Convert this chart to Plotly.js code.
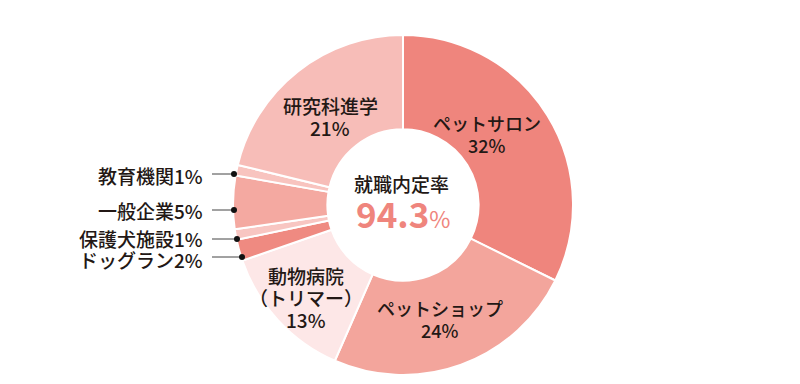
<!DOCTYPE html>
<html><head><meta charset="utf-8">
<script src="https://cdn.plot.ly/plotly-3.0.1.min.js"></script>
<style>html,body{margin:0;padding:0;background:#fff}#chart{width:800px;height:384px}</style>
</head><body><div id="chart"></div>
<script>
const categories = ["ペットサロン","ペットショップ","動物病院（トリマー）","ドッグラン","保護犬施設","一般企業","教育機関","研究科進学"];
const values = [32, 24, 13, 2, 1, 5, 1, 21];
const colors = ["#ef857d","#f3a59c","#fde7e7","#ef8a81","#f8c6c2","#f4a9a1","#f8c4bf","#f7bdb8"];
const centerTitle = "就職内定率";
const centerRate = "94.3";

const W = 800, H = 384;
const px = (x) => x / W;
const py = (y) => 1 - y / H;
const FONT = '"Noto Sans CJK JP", "Noto Sans", sans-serif';
const TXT = '#231815';

const inLabels = [
  {lines: ["ペットサロン", "32%"], x: 487, y: 123, size: 18},
  {lines: ["ペットショップ", "24%"], x: 440, y: 308, size: 18},
  {lines: ["動物病院", "（トリマー）", "13%"], x: 306, y: 275, size: 19},
  {lines: ["研究科進学", "21%"], x: 330, y: 105, size: 19}
];
const outLabels = [
  {text: "教育機関1%", y: 175, dot: 234, ly: 174},
  {text: "一般企業5%", y: 210, dot: 234, ly: 210},
  {text: "保護犬施設1%", y: 238, dot: 237, ly: 239},
  {text: "ドッグラン2%", y: 259, dot: 242, ly: 257}
];

const annotations = [];
const shapes = [];
inLabels.forEach(l => l.lines.forEach((t, i) => annotations.push({
  text: t, x: px(l.x), y: py(l.y + i * 22), xref: 'paper', yref: 'paper',
  showarrow: false, xanchor: 'center', yanchor: 'middle',
  font: {family: FONT, size: l.size, color: TXT, weight: 500}, align: 'center'
})));
outLabels.forEach(l => {
  annotations.push({
    text: l.text, x: px(204), y: py(l.y), xref: 'paper', yref: 'paper',
    showarrow: false, xanchor: 'right', yanchor: 'middle', borderpad: 0,
    font: {family: FONT, size: 19, color: TXT, weight: 500}
  });
  shapes.push({type: 'line', xref: 'paper', yref: 'paper', x0: px(212), x1: px(l.dot), y0: py(l.ly), y1: py(l.ly), line: {color: '#444', width: 1}});
  shapes.push({type: 'circle', xref: 'paper', yref: 'paper', x0: px(l.dot - 3), x1: px(l.dot + 3), y0: py(l.ly - 3), y1: py(l.ly + 3), fillcolor: '#111', line: {width: 0}});
});
annotations.push({
  text: centerTitle, x: px(401), y: py(183), xref: 'paper', yref: 'paper', showarrow: false,
  xanchor: 'center', yanchor: 'middle', font: {family: FONT, size: 19, color: TXT, weight: 500}
});
annotations.push({
  text: "<b>" + centerRate + "</b><span style=\"font-size:23px;font-weight:400\">%</span>", x: px(403), y: py(212), xref: 'paper', yref: 'paper', showarrow: false,
  xanchor: 'center', yanchor: 'middle', font: {family: FONT, size: 35, color: '#ef857d', weight: 900}
});

const trace = {
  type: 'pie', labels: categories, values: values, sort: false, direction: 'clockwise', rotation: 0,
  hole: 0.445, textinfo: 'none', hoverinfo: 'label+percent',
  marker: {colors: colors, line: {color: '#ffffff', width: 2}},
  domain: {x: [px(403 - 170), px(403 + 170)], y: [py(205 + 170), py(205 - 170)]},
  showlegend: false
};
Plotly.newPlot('chart', [trace], {
  width: W, height: H, margin: {l: 0, r: 0, t: 0, b: 0},
  paper_bgcolor: '#fff', plot_bgcolor: '#fff', showlegend: false,
  annotations: annotations, shapes: shapes
}, {displayModeBar: false, staticPlot: true});
</script></body></html>
